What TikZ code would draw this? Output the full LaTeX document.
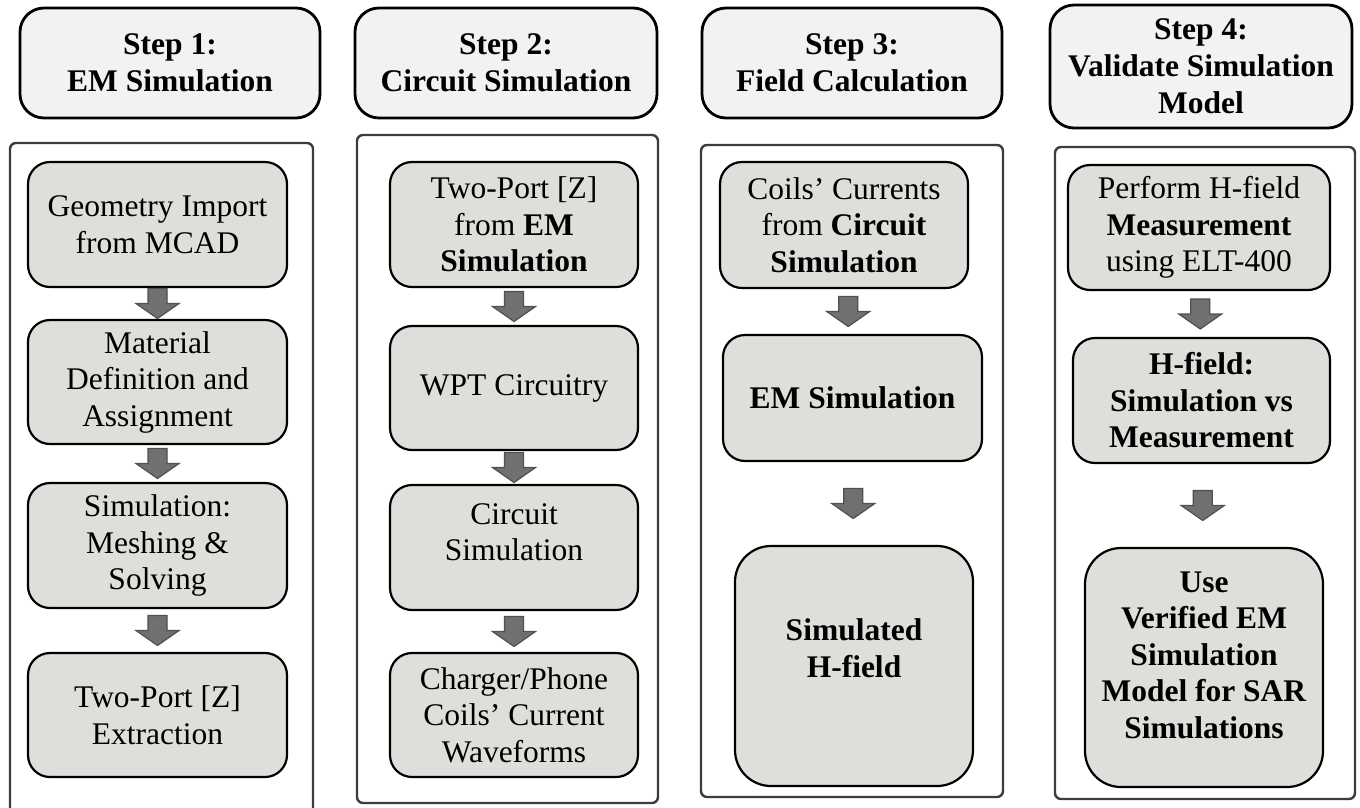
\documentclass[tikz,border=0pt]{standalone}
\usepackage{fontspec}
\setmainfont{Liberation Serif}
\usetikzlibrary{calc}
\definecolor{hdrfill}{RGB}{242,242,242}
\definecolor{boxfill}{RGB}{222,222,218}
\definecolor{arrfill}{RGB}{112,112,112}
\definecolor{arrline}{RGB}{80,80,80}
\definecolor{frameline}{RGB}{60,60,60}
\newcommand\blockarrow[2]{%
  \coordinate (m-#1-#2) at ($(#1.south)!0.5!(#2.north)$);
  \draw[blockarr, shift={(m-#1-#2)}] (-9.5,-15) -- (9.5,-15) -- (9.5,0) -- (21.5,0) -- (0,15) -- (-21.5,0) -- (-9.5,0) -- cycle;}
\begin{document}
\begin{tikzpicture}[x=1pt,y=-1pt,
  hdr/.style={draw=black, line width=2.8pt, fill=hdrfill, rounded corners=24pt, align=center,
    font=\fontsize{31.5}{37}\selectfont\bfseries, inner sep=0pt},
  stepbox/.style={draw=black, line width=2.2pt, fill=boxfill, rounded corners=22pt, align=center,
    font=\fontsize{31.5}{36.5}\selectfont, inner sep=0pt},
  bigbox/.style={stepbox, rounded corners=36pt},
  frame/.style={draw=frameline, line width=2.4pt, rounded corners=6pt, inner sep=0pt},
  blockarr/.style={fill=arrfill, draw=arrline, line width=1.2pt, line join=miter}
]
\useasboundingbox (0,0) rectangle (1360,807);
\clip (0,0) rectangle (1360,807);

% ---------- headers ----------
\node[hdr, minimum width=300pt, minimum height=110pt] (h1) at (170,63) {Step 1:\\EM Simulation};
\node[hdr, minimum width=302pt, minimum height=110pt] (h2) at (506,63) {Step 2:\\Circuit Simulation};
\node[hdr, minimum width=300pt, minimum height=110pt] (h3) at (852,63) {Step 3:\\Field Calculation};
\node[hdr, minimum width=302pt, minimum height=123pt] (h4) at (1201,66.5) {Step 4:\\Validate Simulation\\Model};

% ---------- frames ----------
\draw[frame] (10,840) -- (10,143) -- (313,143) -- (313,840);
\node[frame, minimum width=301pt, minimum height=668pt] (f2) at (507.5,469) {};
\node[frame, minimum width=302pt, minimum height=652pt] (f3) at (852,471) {};
\node[frame, minimum width=300pt, minimum height=652pt] (f4) at (1205,473) {};

% ---------- column 1 ----------
\node[stepbox, minimum width=259pt, minimum height=125pt] (a1) at (157.5,224.5) {Geometry Import\\from MCAD};
\node[stepbox, minimum width=259pt, minimum height=124pt] (a2) at (157.5,382) {Material\\Definition and\\Assignment};
\node[stepbox, minimum width=259pt, minimum height=125pt] (a3) at (157.5,545.5) {Simulation:\\Meshing \&\\Solving};
\node[stepbox, minimum width=259pt, minimum height=124pt] (a4) at (157.5,715) {Two-Port [Z]\\Extraction};

% ---------- column 2 ----------
\node[stepbox, minimum width=248pt, minimum height=125pt] (b1) at (514,224.5) {Two-Port [Z]\\from \textbf{EM}\\\textbf{Simulation}};
\node[stepbox, minimum width=248pt, minimum height=124pt] (b2) at (514,388) {WPT Circuitry};
\node[stepbox, minimum width=248pt, minimum height=125pt, text depth=31pt] (b3) at (514,547.5) {Circuit\\Simulation};
\node[stepbox, minimum width=248pt, minimum height=124pt] (b4) at (514,715) {Charger/Phone\\Coils’ Current\\Waveforms};

% ---------- column 3 ----------
\node[stepbox, minimum width=248pt, minimum height=126pt] (c1) at (844,225) {Coils’ Currents\\from \textbf{Circuit}\\\textbf{Simulation}};
\node[stepbox, minimum width=259pt, minimum height=126pt] (c2) at (852.5,398) {\textbf{EM Simulation}};
\node[bigbox, minimum width=238pt, minimum height=240pt, text depth=36pt] (c3) at (854,666) {\textbf{Simulated}\\\textbf{H-field}};

% ---------- column 4 ----------
\node[stepbox, minimum width=262pt, minimum height=125pt] (d1) at (1199,227.5) {Perform H-field\\\textbf{Measurement}\\using ELT-400};
\node[stepbox, minimum width=257pt, minimum height=125pt] (d2) at (1201.5,400.5) {\textbf{H-field:}\\\textbf{Simulation vs}\\\textbf{Measurement}};
\node[bigbox, minimum width=238pt, minimum height=239pt, text depth=25pt] (d3) at (1204,667.5) {\textbf{Use}\\\textbf{Verified EM}\\\textbf{Simulation}\\\textbf{Model for SAR}\\\textbf{Simulations}};

% ---------- arrows ----------
\blockarrow{a1}{a2}
\blockarrow{a2}{a3}
\blockarrow{a3}{a4}
\blockarrow{b1}{b2}
\blockarrow{b2}{b3}
\blockarrow{b3}{b4}
\blockarrow{c1}{c2}
\blockarrow{c2}{c3}
\blockarrow{d1}{d2}
\blockarrow{d2}{d3}
\end{tikzpicture}
\end{document}
